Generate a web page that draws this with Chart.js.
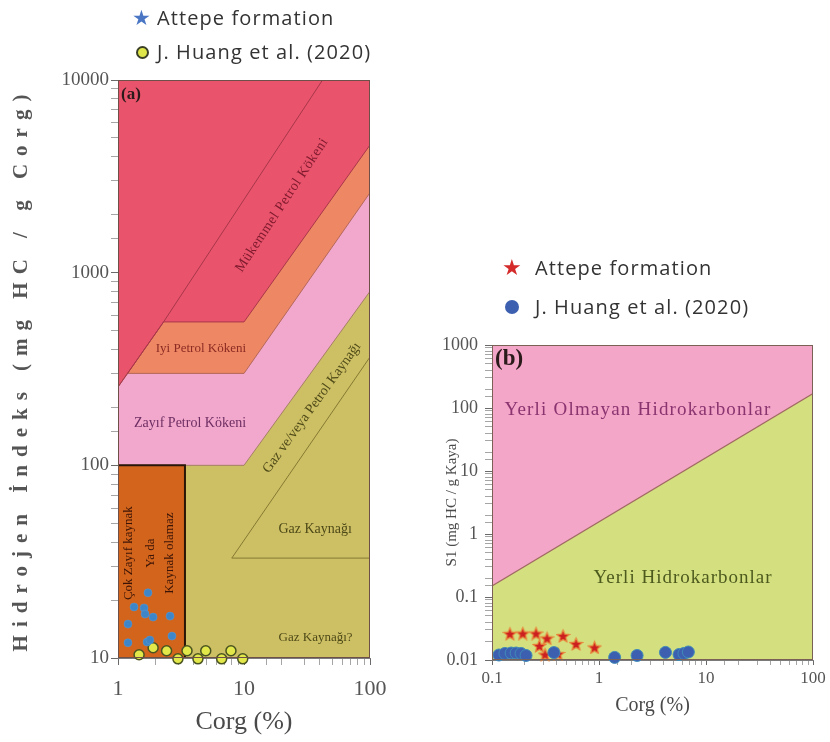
<!DOCTYPE html>
<html lang="tr">
<head>
<meta charset="utf-8">
<script src="https://cdn.jsdelivr.net/npm/chart.js@4.4.1/dist/chart.umd.min.js"></script>
<style>
  html, body { margin: 0; padding: 0; background: #fff; }
  #sahne { position: relative; width: 830px; height: 742px; overflow: hidden; }
  #grafikA { position: absolute; left: 0; top: 0; }
  #grafikB { position: absolute; left: 400px; top: 0; }
  .metin { position: absolute; font-family: "Open Sans", sans-serif; font-size: 20px; letter-spacing: 1.1px; line-height: 26px; color: #333; white-space: nowrap; }
  .yildiz { position: absolute; font-family: "DejaVu Sans", sans-serif; line-height: 22px; }
  .daire { position: absolute; border-radius: 50%; box-sizing: border-box; }
</style>
</head>
<body>
<div id="sahne">
  <canvas id="grafikA" width="400" height="742"></canvas>
  <canvas id="grafikB" width="430" height="742"></canvas>

  <div class="yildiz" style="left:132px;top:7px;font-size:21px;color:#4a76c4;">★</div>
  <div class="metin" style="left:157px;top:5px;">Attepe formation</div>
  <div class="daire" style="left:136px;top:46px;width:13px;height:13px;background:#dfe64a;border:2px solid #3a3f25;"></div>
  <div class="metin" style="left:157px;top:39px;">J. Huang et al. (2020)</div>

  <div class="yildiz" style="left:502px;top:257px;font-size:22px;color:#d42a2a;">★</div>
  <div class="metin" style="left:535px;top:255px;">Attepe formation</div>
  <div class="daire" style="left:505px;top:300px;width:14px;height:14px;background:#3d5fb0;"></div>
  <div class="metin" style="left:535px;top:294px;">J. Huang et al. (2020)</div>
</div>

<script>
// ---- (a) Hidrojen İndeks - Corg ----
const xTikA = [1, 10, 100];
const xTikEtiketA = ['1', '10', '100'];
const yTikA = [10, 100, 1000, 10000];
const yTikEtiketA = ['10', '100', '1000', '10000'];

const attepeCorgA = [1.73, 1.34, 1.61, 1.64, 1.90, 2.59, 1.20, 2.68, 1.20, 1.70, 1.79];
const attepeHiA = [21.8, 18.4, 18.2, 16.9, 16.3, 16.5, 15.0, 13.0, 12.0, 12.1, 12.4];
const huangCorgA = [1.47, 1.90, 2.43, 2.99, 3.53, 4.31, 4.97, 6.65, 7.88, 9.77];
const huangHiA = [10.4, 11.3, 10.9, 9.9, 10.9, 9.9, 10.9, 9.9, 10.9, 9.9];

// bölge sınırları [Corg, HI]
const kirmiziSinir = [[1, 10000], [100, 10000]];
const mukemmelCizgi = [[1, 255], [2.3, 555], [42, 10000]];
const turuncuSinir = [[1, 255], [2.3, 555], [10, 555], [100, 4600]];
const pembeSinir = [[1, 255], [1.19, 300], [10, 300], [100, 2600]];
const zeytinSinir = [[1, 100], [10, 100], [100, 800]];
const kutuSinir = [[1, 100], [3.4, 100], [3.4, 10]];
const gazUcgen = [[100, 33], [8, 33], [100, 365]];

// ---- (b) S1 - Corg ----
const xTikB = [0.1, 1, 10, 100];
const xTikEtiketB = ['0.1', '1', '10', '100'];
const yTikB = [0.01, 0.1, 1, 10, 100, 1000];
const yTikEtiketB = ['0.01', '0.1', '1', '10', '100', '1000'];

const attepeCorgB = [0.147, 0.194, 0.258, 0.327, 0.461, 0.277, 0.610, 0.908, 0.313, 0.414];
const attepeS1B = [0.0265, 0.0268, 0.0268, 0.0224, 0.0245, 0.0170, 0.0183, 0.0161, 0.0124, 0.0127];
const huangCorgB = [0.116, 0.132, 0.151, 0.168, 0.187, 0.208, 0.379, 1.40, 2.27, 4.18, 5.60, 6.22, 6.84];
const huangS1B = [0.0120, 0.0127, 0.0129, 0.0129, 0.0127, 0.0118, 0.0131, 0.0110, 0.0118, 0.0132, 0.0122, 0.0127, 0.0134];

const yerliOlmayanSinir = [[0.1, 1000], [100, 1000]];
const yerliSinir = [[0.1, 0.15], [100, 170]];

const serif = '"Liberation Serif", "Times New Roman", serif';

function noktalar(xs, ys) {
  return xs.map((x, i) => ({ x, y: ys[i] }));
}

function ciftler(liste) {
  return liste.map(([x, y]) => ({ x, y }));
}

function bolge(sinir, dolgu, kenar, sira, kalinlik) {
  return {
    data: ciftler(sinir), showLine: true, fill: 'start',
    backgroundColor: dolgu, borderColor: kenar, borderWidth: kalinlik || 1,
    pointRadius: 0, order: sira
  };
}

function cizgi(sinir, renk, sira) {
  return {
    data: ciftler(sinir), showLine: true, fill: false,
    borderColor: renk, borderWidth: 1, pointRadius: 0, order: sira
  };
}

function etiketBul(liste, etiketler) {
  return (v) => {
    const i = liste.findIndex((t) => Math.abs(Math.log10(v) - Math.log10(t)) < 1e-6);
    return i >= 0 ? etiketler[i] : '';
  };
}

// dolu beş köşeli yıldız
function yildizResmi(boyut, dolgu, kenar) {
  const c = document.createElement('canvas');
  c.width = c.height = boyut;
  const g = c.getContext('2d');
  const r = boyut / 2 - 1, ri = r * 0.45, m = boyut / 2;
  g.beginPath();
  for (let i = 0; i < 10; i++) {
    const rad = i % 2 ? ri : r;
    const a = -Math.PI / 2 + i * Math.PI / 5;
    g.lineTo(m + rad * Math.cos(a), m + 1 + rad * Math.sin(a));
  }
  g.closePath();
  g.fillStyle = dolgu;
  g.fill();
  g.strokeStyle = kenar;
  g.lineWidth = 1.2;
  g.stroke();
  return c;
}

// bölge yazıları, panel harfi, çerçeve
function panelEklentisi(ayar) {
  return {
    id: 'panel',
    afterDatasetDraw(chart, args) {
      if (!chart.data.datasets[args.index].yazilarSonra) return;
      const { ctx, scales: { x, y } } = chart;
      ayar.etiketler.forEach((e) => {
        ctx.save();
        ctx.font = e.font;
        ctx.fillStyle = e.renk;
        if (e.aralik && 'letterSpacing' in ctx) ctx.letterSpacing = e.aralik;
        ctx.textAlign = 'center';
        ctx.textBaseline = 'middle';
        let aci = 0;
        if (e.yon) {
          const [a, b] = e.yon;
          aci = Math.atan2(
            y.getPixelForValue(b[1]) - y.getPixelForValue(a[1]),
            x.getPixelForValue(b[0]) - x.getPixelForValue(a[0])
          );
        } else if (e.dik) {
          aci = -Math.PI / 2;
        }
        ctx.translate(x.getPixelForValue(e.x), y.getPixelForValue(e.y));
        ctx.rotate(aci);
        ctx.fillText(e.metin, 0, 0);
        ctx.restore();
      });
    },
    afterDraw(chart) {
      const { ctx, chartArea } = chart;
      ctx.save();
      ctx.strokeStyle = ayar.cerceve;
      ctx.lineWidth = 1;
      ctx.strokeRect(chartArea.left + 0.5, chartArea.top + 0.5, chartArea.width - 1, chartArea.height - 1);
      ctx.font = ayar.harf.font;
      ctx.fillStyle = '#2a1a1a';
      ctx.textBaseline = 'top';
      ctx.fillText(ayar.harf.metin, chartArea.left + 3, chartArea.top + ayar.harf.dy);
      if (ayar.yBaslik) {
        const b = ayar.yBaslik;
        ctx.font = b.font;
        ctx.fillStyle = b.renk;
        if ('letterSpacing' in ctx) ctx.letterSpacing = b.aralik;
        ctx.translate(b.x, (chartArea.top + chartArea.bottom) / 2);
        ctx.rotate(-Math.PI / 2);
        ctx.textAlign = 'center';
        ctx.textBaseline = 'middle';
        ctx.fillText(b.metin, 0, 0);
      }
      ctx.restore();
    }
  };
}

function eksen(min, max, tikler, etiketler, boyut, yatay, tikBoyu, bosluk, baslik) {
  const e = {
    type: 'logarithmic', min, max,
    afterFit: (s) => { if (yatay) s.height = boyut; else s.width = boyut; },
    grid: {
      drawOnChartArea: false, tickLength: tikBoyu,
      tickColor: (c) => (c.tick && c.tick.label ? '#6a6a6a' : '#a5a5a5')
    },
    border: { color: '#7a7a7a' },
    ticks: {
      autoSkip: false, maxRotation: 0, padding: bosluk, color: '#555',
      font: { family: serif, size: baslik.tikFont },
      callback: etiketBul(tikler, etiketler)
    }
  };
  if (baslik.metin) {
    e.title = {
      display: true, text: baslik.metin, color: '#4a4a4a',
      font: { family: serif, size: baslik.font },
      padding: baslik.padding
    };
  }
  return e;
}

// ---- grafik (a) ----
const yazilarA = [
  { metin: 'Mükemmel Petrol Kökeni', x: 20, y: 2245, font: '14px ' + serif, renk: '#7d1a2e', yon: [[2.3, 555], [42, 10000]], aralik: '0.5px' },
  { metin: 'Iyi Petrol Kökeni', x: 4.55, y: 406, font: '13px ' + serif, renk: '#8b2b24' },
  { metin: 'Zayıf Petrol Kökeni', x: 3.73, y: 166, font: '14px ' + serif, renk: '#6e2e63' },
  { metin: 'Gaz ve/veya Petrol Kaynağı', x: 34.6, y: 199, font: '14px ' + serif, renk: '#4e4a18', yon: [[10, 100], [100, 800]] },
  { metin: 'Gaz Kaynağı', x: 36.7, y: 46.3, font: '14px ' + serif, renk: '#4e4a18' },
  { metin: 'Gaz Kaynağı?', x: 37, y: 12.7, font: '13px ' + serif, renk: '#4e4a18' },
  { metin: 'Çok Zayıf kaynak', x: 1.22, y: 35, font: '13px ' + serif, renk: '#3b1406', dik: true },
  { metin: 'Ya da', x: 1.80, y: 35, font: '13px ' + serif, renk: '#3b1406', dik: true },
  { metin: 'Kaynak olamaz', x: 2.59, y: 35, font: '13px ' + serif, renk: '#3b1406', dik: true }
];

const ustCizgilerA = cizgi(gazUcgen, '#857a32', 50);
ustCizgilerA.yazilarSonra = true;

new Chart(document.getElementById('grafikA'), {
  type: 'scatter',
  data: {
    datasets: [
      bolge(kirmiziSinir, '#e9536b', 'rgba(0,0,0,0)', 100),
      bolge(turuncuSinir, '#ee8763', '#a8374a', 99),
      bolge(pembeSinir, '#f1a8cc', '#b5685c', 98),
      bolge(zeytinSinir, '#cdbf64', '#a58066', 97),
      bolge(kutuSinir, '#d2641c', '#2a1608', 96, 2),
      cizgi(mukemmelCizgi, '#a8374a', 51),
      ustCizgilerA,
      {
        label: 'J. Huang et al. (2020)', data: noktalar(huangCorgA, huangHiA),
        pointRadius: 5, pointBackgroundColor: '#e2e84a', pointBorderColor: '#4a5420',
        pointBorderWidth: 1.5, order: 2, clip: false
      },
      {
        label: 'Attepe formation', data: noktalar(attepeCorgA, attepeHiA),
        pointRadius: 4, pointBackgroundColor: '#3f86c9', pointBorderColor: '#5b9bd3',
        pointBorderWidth: 0.5, order: 1, clip: false
      }
    ]
  },
  options: {
    responsive: false, animation: false,
    layout: { padding: { left: 0, top: 80, right: 30, bottom: 0 } },
    plugins: { legend: { display: false }, tooltip: { enabled: false } },
    scales: {
      x: eksen(1, 100, xTikA, xTikEtiketA, 84, true, 7, 11,
        { tikFont: 22, metin: 'Corg (%)', font: 26, padding: { top: 0, bottom: 4 } }),
      y: eksen(10, 10000, yTikA, yTikEtiketA, 118, false, 7, 2, { tikFont: 19 })
    }
  },
  plugins: [panelEklentisi({
    etiketler: yazilarA,
    cerceve: '#6e5048',
    harf: { metin: '(a)', font: 'bold 17px ' + serif, dy: 6 },
    yBaslik: { metin: 'Hidrojen İndeks (mg HC / g Corg)', x: 22, font: 'bold 21px ' + serif, renk: '#555', aralik: '8px' }
  })]
});

// ---- grafik (b) ----
const yazilarB = [
  { metin: 'Yerli Olmayan Hidrokarbonlar', x: 2.31, y: 93, font: '19px ' + serif, renk: '#8a3470', aralik: '1.2px' },
  { metin: 'Yerli Hidrokarbonlar', x: 6.1, y: 0.2, font: '19px ' + serif, renk: '#4d5a1e', aralik: '1px' }
];

const yerliB = bolge(yerliSinir, '#d4e07f', '#a06a62', 99, 1.2);
yerliB.yazilarSonra = true;

new Chart(document.getElementById('grafikB'), {
  type: 'scatter',
  data: {
    datasets: [
      bolge(yerliOlmayanSinir, '#f4a6c8', 'rgba(0,0,0,0)', 100),
      yerliB,
      {
        label: 'Attepe formation', data: noktalar(attepeCorgB, attepeS1B),
        pointStyle: yildizResmi(15, '#cc1f1f', '#e8823a'), order: 2, clip: false
      },
      {
        label: 'J. Huang et al. (2020)', data: noktalar(huangCorgB, huangS1B),
        pointRadius: 6, pointBackgroundColor: '#3d5fb0', pointBorderColor: '#3f8bb8',
        pointBorderWidth: 1, order: 1, clip: false
      }
    ]
  },
  options: {
    responsive: false, animation: false,
    layout: { padding: { left: 0, top: 345, right: 17, bottom: 0 } },
    plugins: { legend: { display: false }, tooltip: { enabled: false } },
    scales: {
      x: eksen(0.1, 100, xTikB, xTikEtiketB, 82, true, 5, 3,
        { tikFont: 17, metin: 'Corg (%)', font: 20, padding: { top: 0, bottom: 24 } }),
      y: eksen(0.01, 1000, yTikB, yTikEtiketB, 92, false, 7, 7,
        { tikFont: 18, metin: 'S1 (mg HC / g Kaya)', font: 15, padding: { top: 43, bottom: 0 } })
    }
  },
  plugins: [panelEklentisi({
    etiketler: yazilarB,
    cerceve: '#7a6055',
    harf: { metin: '(b)', font: 'bold 23px ' + serif, dy: 3 }
  })]
});
</script>
</body>
</html>
